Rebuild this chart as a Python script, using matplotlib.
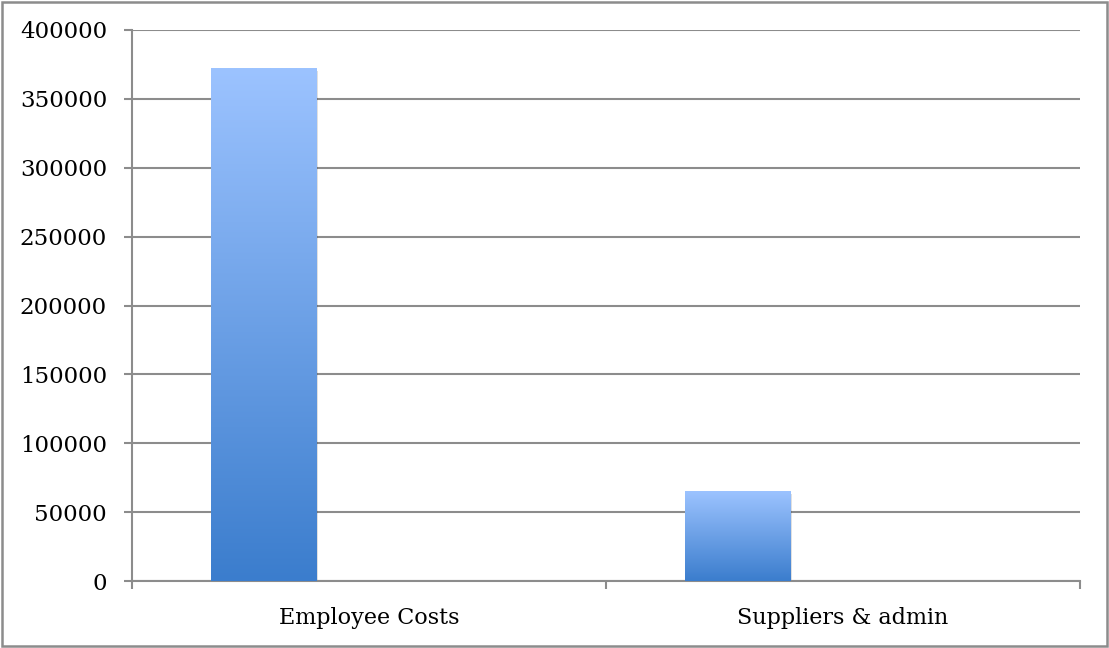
import numpy as np
import matplotlib.pyplot as plt
from matplotlib.patches import Rectangle
from matplotlib.colors import LinearSegmentedColormap

categories = ['Employee Costs', 'Suppliers & admin']
values = [372000, 65000]
yticks = [0, 50000, 100000, 150000, 200000, 250000, 300000, 350000, 400000]

grid_col = '#8c8c8c'
cmap = LinearSegmentedColormap.from_list('bar', ['#3b7dcd', '#9cc3ff'])
plt.rcParams['font.family'] = ['DejaVu Serif']

fig = plt.figure(figsize=(11.09, 6.48), dpi=100)
ax = fig.add_axes([132 / 1109, 67 / 648, 948 / 1109, 551 / 648])

# gradient filled bars, shifted left like the first of three series per group
bar_w = 1 / 4.5
grad = np.linspace(0, 1, 256).reshape(-1, 1)
for i, v in enumerate(values):
    x0 = i - 0.5 + 0.75 * bar_w
    shadow = Rectangle((x0 + 0.004, -1500), bar_w, v, color='black', alpha=0.12,
                       lw=0, zorder=2)
    ax.add_patch(shadow)
    ax.imshow(grad, cmap=cmap, origin='lower', aspect='auto',
              extent=[x0, x0 + bar_w, 0, v], zorder=3)

ax.set_xlim(-0.5, 1.5)
ax.set_ylim(0, 400000)
ax.set_yticks(yticks)
ax.set_yticklabels([str(t) for t in yticks])
ax.yaxis.grid(True, color=grid_col, lw=1.5)
ax.set_axisbelow(True)

ax.set_xticks([-0.5, 0.5, 1.5])
ax.set_xticklabels([])
ax.set_xticks([0, 1], minor=True)
ax.set_xticklabels(categories, minor=True)
ax.tick_params(axis='x', which='minor', length=0, pad=19, labelsize=16)
ax.tick_params(axis='x', which='major', length=6, width=1.5, color=grid_col)
ax.tick_params(axis='y', length=6, width=1.5, color=grid_col, pad=12, labelsize=16.5)

for s in ['top', 'right']:
    ax.spines[s].set_visible(False)
for s in ['left', 'bottom']:
    ax.spines[s].set_color(grid_col)
    ax.spines[s].set_linewidth(1.5)

# outer chart frame
fig.patches.append(Rectangle((2 / 1109, 2 / 648), 1105 / 1109, 644 / 648,
                             transform=fig.transFigure, fill=False,
                             ec=grid_col, lw=1.8))

fig.savefig('out.png', dpi=100)
